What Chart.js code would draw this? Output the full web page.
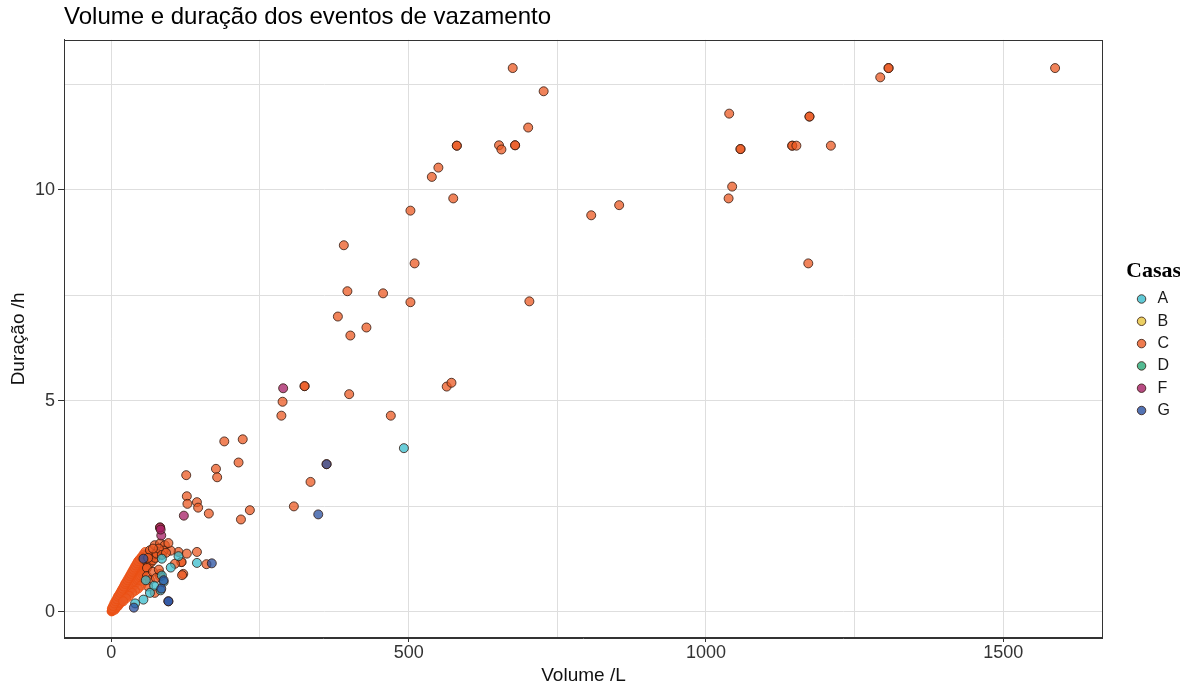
<!DOCTYPE html>
<html lang="pt">
<head>
<meta charset="utf-8">
<title>Volume e duração dos eventos de vazamento</title>
<script src="https://cdn.jsdelivr.net/npm/chart.js@4.4.1/dist/chart.umd.min.js"></script>
<style>
  html, body { margin: 0; padding: 0; background: #fff; }
  #wrap { position: relative; width: 1190px; height: 685px; }
</style>
</head>
<body>
<div id="wrap"><canvas id="leakChart"></canvas></div>
<script>
// casas (legend order)
const casas = ['A', 'B', 'C', 'D', 'F', 'G'];

// [volume /L, duração /h]
const pontosA = [
    [492, 3.88], [113, 1.32], [144, 1.16], [85, 0.86], [88, 0.71], [83, 0.51],
    [54, 0.29], [85, 1.26], [72, 0.62], [65, 0.45], [40, 0.2], [100, 1.05], [58, 0.75]
];
const pontosB = [
    [20, 0.38], [30, 0.55], [12, 0.2]
];
const pontosC = [
    // far points
    [675, 12.89], [727, 12.34], [701, 11.48], [581, 11.05], [581, 11.05], [652, 11.06],
    [656, 10.96], [679, 11.06], [679, 11.06], [550, 10.53], [539, 10.31], [575, 9.80],
    [503, 9.51], [510, 8.26], [457, 7.55], [503, 7.34], [703, 7.36], [807, 9.40],
    [854, 9.64], [1039, 11.81], [1058, 10.97], [1058, 10.97], [1044, 10.08], [1038, 9.80],
    [1307, 12.89], [1307, 12.89], [1293, 12.67], [1587, 12.89], [1174, 11.74], [1174, 11.74],
    [1145, 11.05], [1145, 11.05], [1152, 11.05], [1210, 11.05], [1172, 8.26],
    // middle
    [391, 8.69], [397, 7.6], [381, 7.0], [429, 6.74], [402, 6.55], [400, 5.16],
    [470, 4.65], [564, 5.34], [572, 5.43], [325, 5.35], [325, 5.35], [288, 4.98],
    [286, 4.65], [362, 3.50], [335, 3.08], [307, 2.50],
    // near the origin
    [126, 3.24], [190, 4.04], [221, 4.09], [214, 3.54], [176, 3.39], [178, 3.19],
    [127, 2.74], [128, 2.56], [144, 2.60], [146, 2.47], [164, 2.33], [233, 2.41], [218, 2.19],
    [113, 1.42], [127, 1.38], [144, 1.42], [118, 1.18], [118, 1.18], [107, 1.14], [121, 0.9],
    [82, 0.9], [160, 1.13], [100, 1.45], [82, 2.0], [82, 0.84], [73, 0.45], [119, 0.87],
    // dense cluster
    [0.5, 0.01], [1, 0.03], [1.5, 0.02], [2, 0.05], [2.5, 0.04], [3, 0.07], [3.5, 0.05],
    [4, 0.1], [5, 0.08], [5, 0.13], [6, 0.11], [6.5, 0.16], [7, 0.09], [8, 0.18], [8, 0.13],
    [9, 0.2], [10, 0.16], [10, 0.24], [11, 0.19], [12, 0.27], [12, 0.21], [13, 0.3],
    [14, 0.25], [15, 0.33], [15, 0.26], [16, 0.36], [17, 0.3], [18, 0.41], [18, 0.32],
    [19, 0.43], [20, 0.37], [21, 0.47], [22, 0.4], [22, 0.5], [23, 0.44], [24, 0.53],
    [25, 0.47], [26, 0.58], [27, 0.5], [27, 0.61], [28, 0.54], [29, 0.63], [30, 0.56],
    [31, 0.68], [32, 0.6], [33, 0.71], [34, 0.64], [35, 0.75], [36, 0.67], [37, 0.79],
    [38, 0.72], [39, 0.82], [40, 0.75], [41, 0.87], [42, 0.79], [43, 0.9], [44, 0.83],
    [45, 0.95], [46, 0.87], [47, 0.99], [48, 0.9], [50, 1.02], [51, 0.93], [53, 1.06],
    [55, 0.98], [56, 1.12], [58, 1.05], [60, 1.18], [62, 1.1], [64, 1.24], [66, 1.16],
    [68, 1.3], [70, 1.22], [72, 1.36], [74, 1.28], [76, 1.4],
    [6, 0.05], [8, 0.1], [10, 0.12], [12, 0.15], [14, 0.2], [16, 0.22], [18, 0.27],
    [20, 0.3], [22, 0.33], [24, 0.38], [26, 0.4], [28, 0.45], [30, 0.48], [32, 0.52],
    [34, 0.56], [36, 0.6], [38, 0.63], [40, 0.67], [42, 0.7], [44, 0.75], [46, 0.78],
    [48, 0.82], [50, 0.85], [52, 0.9], [54, 0.93], [56, 0.97], [58, 1.0], [60, 1.04],
    [1, 0.08], [3, 0.14], [5, 0.2], [7, 0.25], [9, 0.3], [11, 0.36], [13, 0.4],
    [15, 0.45], [17, 0.5], [19, 0.55], [21, 0.6], [23, 0.66], [25, 0.7], [27, 0.75],
    [29, 0.8], [31, 0.85], [33, 0.9], [35, 0.95], [37, 1.0], [39, 1.05], [41, 1.1],
    [43, 1.15], [45, 1.2], [48, 1.25], [51, 1.3], [54, 1.36], [57, 1.42],
    [59, 1.34], [65, 1.46], [73, 1.58], [76, 1.38], [82, 1.62], [90, 1.58], [96, 1.63],
    [88, 1.45], [80, 1.5], [70, 1.5], [62, 1.28], [85, 1.35], [92, 1.4],
    [60, 0.85], [65, 0.75], [70, 0.95], [75, 0.8], [80, 1.0], [62, 0.6], [55, 0.72],
    [50, 0.62], [45, 0.55], [40, 0.5], [35, 0.45], [30, 0.38], [25, 0.32], [20, 0.25]
];
const pontosD = [
    [25, 0.45], [35, 0.62], [15, 0.28]
];
const pontosF = [
    [289, 5.30], [122, 2.28], [84, 1.81], [82, 2.0], [83, 1.95]
];
const pontosG = [
    [348, 2.31], [362, 3.50], [96, 0.25], [96, 0.25], [169, 1.15], [54, 1.26],
    [84, 0.55], [38, 0.10], [88, 0.75]
];

const coresCasas = ['#38bccc', '#e6c33c', '#eb5a23', '#28aa78', '#a51e64', '#2850a0'];
const ordemDesenho = [2, 5, 3, 4, 0, 1]; // lower = drawn on top

const xTicks = [0, 250, 500, 750, 1000, 1250, 1500];
const yTicks = [0, 2.5, 5, 7.5, 10, 12.5];

const todosPontos = [pontosA, pontosB, pontosC, pontosD, pontosF, pontosG];

function withAlpha(hex, a) {
    const n = parseInt(hex.slice(1), 16);
    return `rgba(${(n >> 16) & 255}, ${(n >> 8) & 255}, ${n & 255}, ${a})`;
}

// outline of a point: the packed C band near the origin reads as solid orange
function pointOutline(c) {
    const p = c.raw;
    if (c.datasetIndex === 2 && p && p.x < 60 && p.y < 1.45) return 'rgba(235, 80, 20, 0.85)';
    return 'rgba(50, 25, 15, 0.8)';
}

// panel border on all four sides
const panelBorder = {
    id: 'panelBorder',
    afterDraw(chart) {
        const { ctx, chartArea: a } = chart;
        ctx.save();
        ctx.strokeStyle = '#333';
        ctx.lineWidth = 1;
        ctx.strokeRect(Math.round(a.left) + 0.5, Math.round(a.top) + 0.5,
            Math.round(a.right - a.left) - 1, Math.round(a.bottom - a.top) - 1);
        ctx.restore();
    }
};

Chart.defaults.font.family = "'Liberation Sans', Arial, sans-serif";
Chart.defaults.color = '#333';

const ctx = document.getElementById('leakChart').getContext('2d');
new Chart(ctx, {
    type: 'scatter',
    data: {
        datasets: casas.map((casa, i) => ({
            label: casa,
            data: todosPontos[i].map(p => ({ x: p[0], y: p[1] })),
            backgroundColor: withAlpha(coresCasas[i], 0.75),
            borderColor: pointOutline,
            borderWidth: 1,
            pointRadius: 4.5,
            pointHoverRadius: 4.5,
            pointStyle: 'circle',
            order: ordemDesenho[i]
        }))
    },
    plugins: [panelBorder],
    options: {
        responsive: true,
        maintainAspectRatio: false,
        animation: false,
        layout: { padding: { left: 4, right: 10, top: 0, bottom: 0 } },
        plugins: {
            title: {
                display: true,
                text: 'Volume e duração dos eventos de vazamento',
                align: 'start',
                fullSize: false,
                color: '#000',
                font: { size: 24, weight: 'normal' },
                padding: { top: 3, bottom: 8 }
            },
            legend: {
                position: 'right',
                title: {
                    display: true,
                    text: 'Casas',
                    position: 'center',
                    color: '#000',
                    font: { family: "'Liberation Serif', 'Times New Roman', serif", size: 22, weight: 'bold', lineHeight: 1 },
                    padding: { top: 0, bottom: 2.5 }
                },
                labels: {
                    usePointStyle: true,
                    boxWidth: 16,
                    boxHeight: 6,
                    padding: 6.3,
                    color: '#1a1a1a',
                    font: { size: 16 },
                    sort: (a, b) => a.datasetIndex - b.datasetIndex,
                    generateLabels: chart => casas.map((casa, i) => ({
                        text: casa,
                        fillStyle: withAlpha(coresCasas[i], 0.8),
                        strokeStyle: 'rgba(50, 25, 15, 0.8)',
                        lineWidth: 1,
                        pointStyle: 'circle',
                        fontColor: '#1a1a1a',
                        datasetIndex: i,
                        hidden: false
                    }))
                }
            },
            tooltip: { enabled: false }
        },
        scales: {
            x: {
                type: 'linear',
                min: -79.5,
                max: 1667.5,
                afterBuildTicks: axis => { axis.ticks = xTicks.map(v => ({ value: v })); },
                ticks: {
                    callback: v => (v % 500 === 0 ? v : ''),
                    font: { size: 18, lineHeight: 1 },
                    color: '#333',
                    padding: 2,
                    maxRotation: 0
                },
                grid: {
                    color: '#dedede',
                    lineWidth: 1,
                    tickLength: 4,
                    tickColor: c => (c.tick && c.tick.value % 500 === 0 ? '#333' : 'rgba(0,0,0,0)')
                },
                border: { display: true, color: '#333' },
                title: {
                    display: true,
                    text: 'Volume /L',
                    color: '#111',
                    font: { size: 19, lineHeight: 1 },
                    padding: { top: 2, bottom: 0 }
                }
            },
            y: {
                type: 'linear',
                min: -0.62,
                max: 13.56,
                afterBuildTicks: axis => { axis.ticks = yTicks.map(v => ({ value: v })); },
                ticks: {
                    callback: v => (v % 5 === 0 ? v : ''),
                    font: { size: 18, lineHeight: 1 },
                    color: '#333',
                    padding: 3
                },
                grid: {
                    color: '#dedede',
                    lineWidth: 1,
                    tickLength: 6,
                    tickColor: c => (c.tick && c.tick.value % 5 === 0 ? '#333' : 'rgba(0,0,0,0)')
                },
                border: { display: true, color: '#333' },
                title: {
                    display: true,
                    text: 'Duração /h',
                    color: '#111',
                    font: { size: 19, lineHeight: 1 },
                    padding: { top: 5, bottom: 4 }
                }
            },
            // spacer between the panel and the legend
            yGap: {
                type: 'linear',
                position: 'right',
                display: true,
                grid: { display: false },
                border: { display: false },
                ticks: { display: false },
                afterFit: scale => { scale.width = 24.3; }
            }
        }
    }
});
</script>
</body>
</html>
